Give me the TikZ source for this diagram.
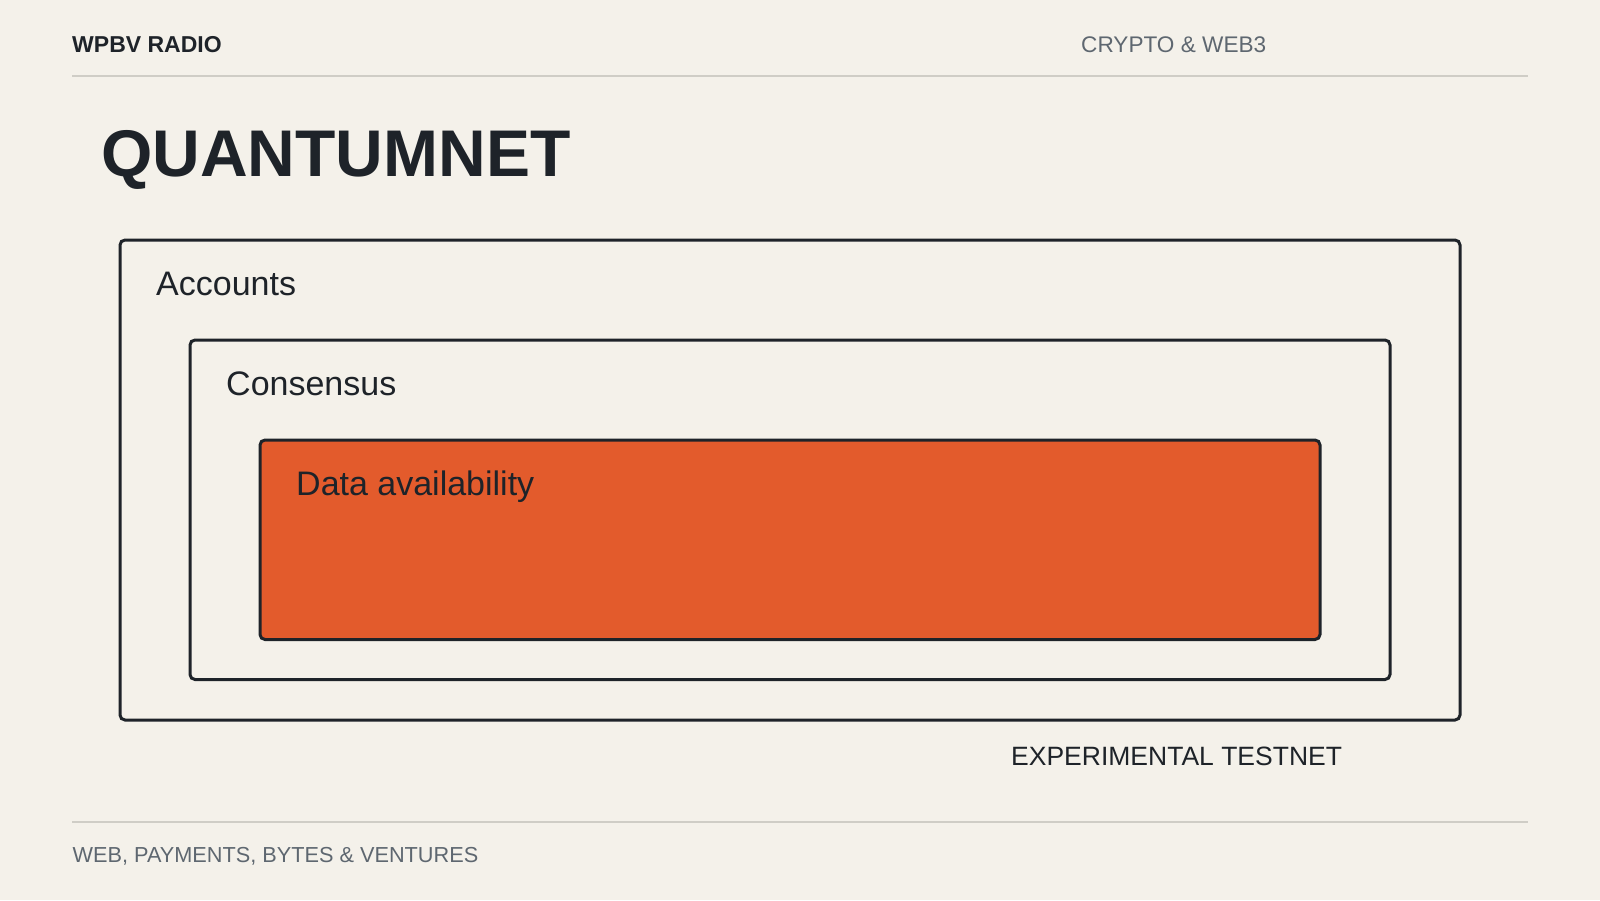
\documentclass[tikz,border=0pt]{standalone}
\usepackage{fontspec}
\setmainfont{Liberation Sans}
\definecolor{bg}{HTML}{F4F1EA}
\definecolor{ink}{HTML}{1E2329}
\definecolor{muted}{HTML}{5E6770}
\definecolor{rule}{HTML}{CFCDC6}
\definecolor{accent}{HTML}{E35B2C}
\tikzset{
  layer/.style={draw=ink, line width=3pt, rounded corners=5pt},
  lbl/.style={inner sep=0pt, anchor=base west, text=ink},
  hdr/.style={inner sep=0pt, anchor=base west},
}
\begin{document}
\begin{tikzpicture}[x=1pt,y=-1pt]
\fill[bg] (0,0) rectangle (1600,900);
\useasboundingbox (0,0) rectangle (1600,900);
% header / footer rules
\coordinate (hl) at (72,75.5);
\coordinate (hr) at (1528,75.5);
\coordinate (fl) at (72,822);
\coordinate (fr) at (1528,822);
\draw[rule, line width=2pt] (hl) -- (hr);
\draw[rule, line width=2pt] (fl) -- (fr);
\node[hdr, text=ink] (brand) at (72,52.5) {\fontsize{23}{27}\selectfont\bfseries WPBV RADIO};
\node[hdr, text=muted] (topic) at (1081,52.5) {\fontsize{22.6}{27}\selectfont CRYPTO \& WEB3};
\node[hdr, text=ink] (title) at (101,176) {\fontsize{66}{72}\selectfont\bfseries QUANTUMNET};
% nested layers
\draw[layer, fill=bg] (120,240) rectangle (1460,720);
\draw[layer, fill=bg] (190,340) rectangle (1390,679.5);
\draw[layer, fill=accent] (260,440) rectangle (1320,639.5);
\node[lbl] (acc) at (156,295.3) {\fontsize{34}{40}\selectfont Accounts};
\node[lbl] (con) at (226,395) {\fontsize{34}{40}\selectfont Consensus};
\node[lbl] (da) at (296,495.3) {\fontsize{34}{40}\selectfont Data availability};
\node[lbl] (exp) at (1011,765.5) {\fontsize{26.5}{31}\selectfont EXPERIMENTAL TESTNET};
\node[hdr, text=muted] (foot) at (72.5,862) {\fontsize{21.7}{26}\selectfont WEB, PAYMENTS, BYTES \& VENTURES};
\end{tikzpicture}
\end{document}
